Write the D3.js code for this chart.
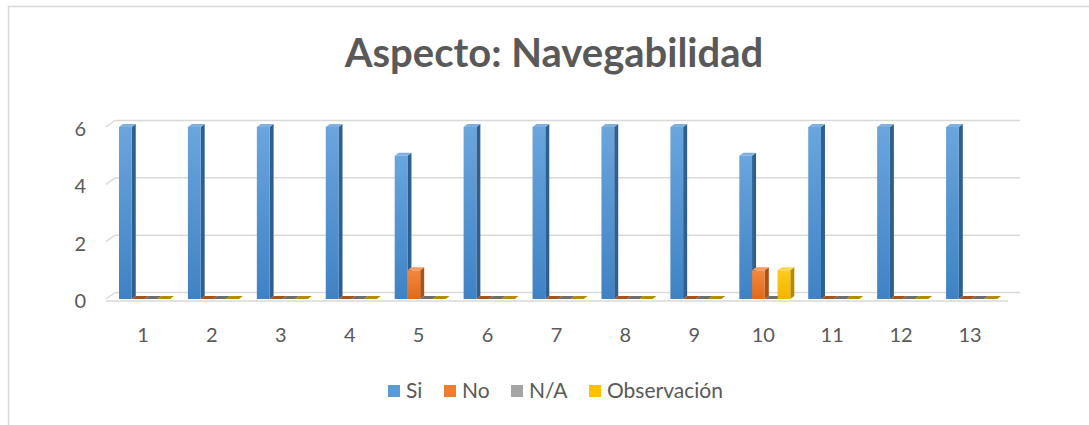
<html>
<head>
<script src="https://cdn.jsdelivr.net/npm/d3@7"></script>
<style>
  body { margin: 0; background: #fff; }
  svg { display: block; }
  text { font-family: Lato, Carlito, "Open Sans", sans-serif; fill: #595959; }
  .title { font-size: 40px; font-weight: 700; }
  .tick-label { font-size: 20px; }
  .legend-label { font-size: 21px; }
</style>
</head>
<body>
<svg id="chart" width="1089" height="425"></svg>
<script>
const categories = ['1', '2', '3', '4', '5', '6', '7', '8', '9', '10', '11', '12', '13'];
const seriesNames = ['Si', 'No', 'N/A', 'Observación'];
const si = [6, 6, 6, 6, 5, 6, 6, 6, 6, 5, 6, 6, 6];
const no = [0, 0, 0, 0, 1, 0, 0, 0, 0, 1, 0, 0, 0];
const na = [0, 0, 0, 0, 0, 0, 0, 0, 0, 0, 0, 0, 0];
const obs = [0, 0, 0, 0, 0, 0, 0, 0, 0, 1, 0, 0, 0];
const yTicks = [0, 2, 4, 6];

const seriesValues = [si, no, na, obs];
const colors = {
  'Si': { top: '#7fb0e0', front1: '#6aa5dd', front2: '#3f82c4', side: '#2f5f8f' },
  'No': { top: '#f59a5c', front1: '#f4883f', front2: '#e06a1a', side: '#a9531a' },
  'N/A': { top: '#bdbdbd', front1: '#aaaaaa', front2: '#8f8f8f', side: '#6e6e6e' },
  'Observación': { top: '#ffd454', front1: '#ffcc1a', front2: '#f0b400', side: '#b58a00' }
};
const legendColors = { 'Si': '#5b9bd5', 'No': '#ed7d31', 'N/A': '#a5a5a5', 'Observación': '#ffc000' };

const svg = d3.select('#chart');

// chart border
svg.append('rect')
  .attr('x', 8.5).attr('y', 6.5)
  .attr('width', 1200).attr('height', 500)
  .attr('fill', 'none')
  .attr('stroke', '#d9d9d9')
  .attr('stroke-width', 1.5);

svg.append('text')
  .attr('class', 'title')
  .attr('x', 554)
  .attr('y', 67)
  .attr('text-anchor', 'middle')
  .text('Aspecto: Navegabilidad');

const xScale = d3.scaleBand()
  .domain(categories)
  .range([108.5, 1004.5]);

const inner = d3.scaleBand()
  .domain(seriesNames)
  .range([10.5, 61.5]);

const yScale = d3.scaleLinear()
  .domain([0, 6])
  .range([299, 127]);

// 3d offsets
const wallDx = 9, wallDy = -6.5;
const barDx = 4, barDy = -3;

// gradients
const defs = svg.append('defs');
seriesNames.forEach((s, i) => {
  const g = defs.append('linearGradient')
    .attr('id', 'grad' + i)
    .attr('x1', 0).attr('y1', 0).attr('x2', 0).attr('y2', 1);
  g.append('stop').attr('offset', '0%').attr('stop-color', colors[s].front1);
  g.append('stop').attr('offset', '100%').attr('stop-color', colors[s].front2);
});

// back wall gridlines
const grid = svg.append('g');
yTicks.forEach(t => {
  const y = yScale(t);
  grid.append('line')
    .attr('x1', 106).attr('y1', y)
    .attr('x2', 106 + wallDx).attr('y2', y + wallDy)
    .attr('stroke', '#d9d9d9').attr('stroke-width', 1.5);
  grid.append('line')
    .attr('x1', 106 + wallDx).attr('y1', y + wallDy)
    .attr('x2', 1020).attr('y2', y + wallDy)
    .attr('stroke', '#d9d9d9').attr('stroke-width', 1.5);
});
// floor front edge
grid.append('line')
  .attr('x1', 106).attr('y1', yScale(0) + 2)
  .attr('x2', 1008).attr('y2', yScale(0) + 2)
  .attr('stroke', '#d9d9d9').attr('stroke-width', 1.5);

// y tick labels
svg.append('g').selectAll('text')
  .data(yTicks)
  .enter()
  .append('text')
  .attr('class', 'tick-label')
  .attr('x', 86)
  .attr('y', d => yScale(d) + 2)
  .attr('dy', '0.35em')
  .attr('text-anchor', 'end')
  .text(d => d);

// x tick labels
svg.append('g').selectAll('text')
  .data(categories)
  .enter()
  .append('text')
  .attr('class', 'tick-label')
  .attr('x', d => xScale(d) + xScale.bandwidth() / 2)
  .attr('y', 335)
  .attr('dy', '0.35em')
  .attr('text-anchor', 'middle')
  .text(d => d);

// bars
const bars = svg.append('g');
categories.forEach((c, ci) => {
  seriesNames.forEach((s, si2) => {
    const v = seriesValues[si2][ci];
    const x0 = xScale(c) + inner(s);
    const w = inner.bandwidth();
    const yTop = yScale(v);
    const yBot = yScale(0);
    const col = colors[s];
    if (v > 0) {
      // side
      bars.append('polygon')
        .attr('points', [[x0 + w, yTop], [x0 + w + barDx, yTop + barDy], [x0 + w + barDx, yBot + barDy], [x0 + w, yBot]].join(' '))
        .attr('fill', col.side);
      // front
      bars.append('rect')
        .attr('x', x0).attr('y', yTop)
        .attr('width', w).attr('height', yBot - yTop)
        .attr('fill', `url(#grad${si2})`);
    }
    // top
    bars.append('polygon')
      .attr('points', [[x0, yTop], [x0 + w, yTop], [x0 + w + barDx, yTop + barDy], [x0 + barDx, yTop + barDy]].join(' '))
      .attr('fill', v > 0 ? col.top : col.side);
  });
});

// legend
const legendX = [388, 444, 511, 589];
const legend = svg.append('g');
seriesNames.forEach((s, i) => {
  legend.append('rect')
    .attr('x', legendX[i]).attr('y', 385)
    .attr('width', 12).attr('height', 12)
    .attr('fill', legendColors[s]);
  legend.append('text')
    .attr('class', 'legend-label')
    .attr('x', legendX[i] + 18)
    .attr('y', 391)
    .attr('dy', '0.35em')
    .text(s);
});
</script>
</body>
</html>
